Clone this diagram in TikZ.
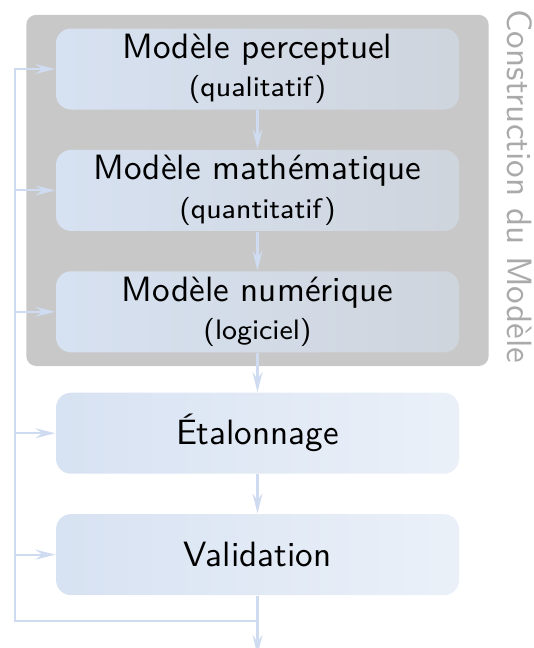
\documentclass[tikz,border=0pt]{standalone}
\usepackage{fontspec}
\renewcommand{\familydefault}{\sfdefault}
\usetikzlibrary{positioning,fit,backgrounds,fadings,arrows.meta}

\definecolor{boxblue}{RGB}{215,226,242}
\definecolor{linkblue}{RGB}{206,219,240}
\definecolor{framegray}{RGB}{200,200,200}
\definecolor{titlegray}{RGB}{170,170,170}

\tikzfading[name=boxfade, left color=transparent!0, right color=transparent!50]

\begin{document}
\begin{tikzpicture}[
    stage/.style={
      fill=boxblue,
      path fading=boxfade,
      rounded corners=1.5mm,
      minimum width=40.3mm,
      minimum height=8.1mm,
      inner sep=0.3mm,
      align=center
    },
    link/.style={
      draw=linkblue,
      line width=0.6pt,
      -{Stealth[length=2mm, width=1mm, inset=0.7mm]}
    },
    node distance=3.9mm
  ]
  \useasboundingbox (0,0) rectangle (53.4mm,-64.8mm);

  \node[stage] (percept) at (25.75mm,-6.9mm)
    {Modèle perceptuel\\[-1.1pt]{\footnotesize (qualitatif)}};
  \node[stage, below=of percept] (math)
    {Modèle mathématique\\[-1.1pt]{\footnotesize (quantitatif)}};
  \node[stage, below=of math] (numer)
    {Modèle numérique\\[-1.1pt]{\footnotesize (logiciel)}};
  \node[stage, below=of numer] (etal) {Étalonnage};
  \node[stage, below=of etal] (valid) {Validation};

  % grey frame round the three models
  \begin{scope}[on background layer]
    \node[fit=(percept)(numer), inner xsep=2.9mm, inner ysep=1.3mm,
      fill=framegray, rounded corners=1mm] (model) {};
  \end{scope}
  \node[rotate=-90, anchor=base, text=titlegray, inner sep=0pt] (modeltitle)
    at ([xshift=1.8mm,yshift=0.4mm]model.east) {Construction du Modèle};

  \draw[link] (percept) -- (math);
  \draw[link] (math) -- (numer);
  \draw[link] (numer) -- (etal);
  \draw[link] (etal) -- (valid);
  \coordinate (exit) at ([yshift=-5.9mm]valid.south);
  \draw[link] (valid) -- (exit);

  % feedback loop
  \coordinate (loop) at (1.5mm,-62.07mm);
  \draw[link] (valid.south |- loop) -- (loop) |- (percept);
  \foreach \n in {math,numer,etal,valid}
    \draw[link] (loop |- \n) -- (\n);
\end{tikzpicture}
\end{document}
